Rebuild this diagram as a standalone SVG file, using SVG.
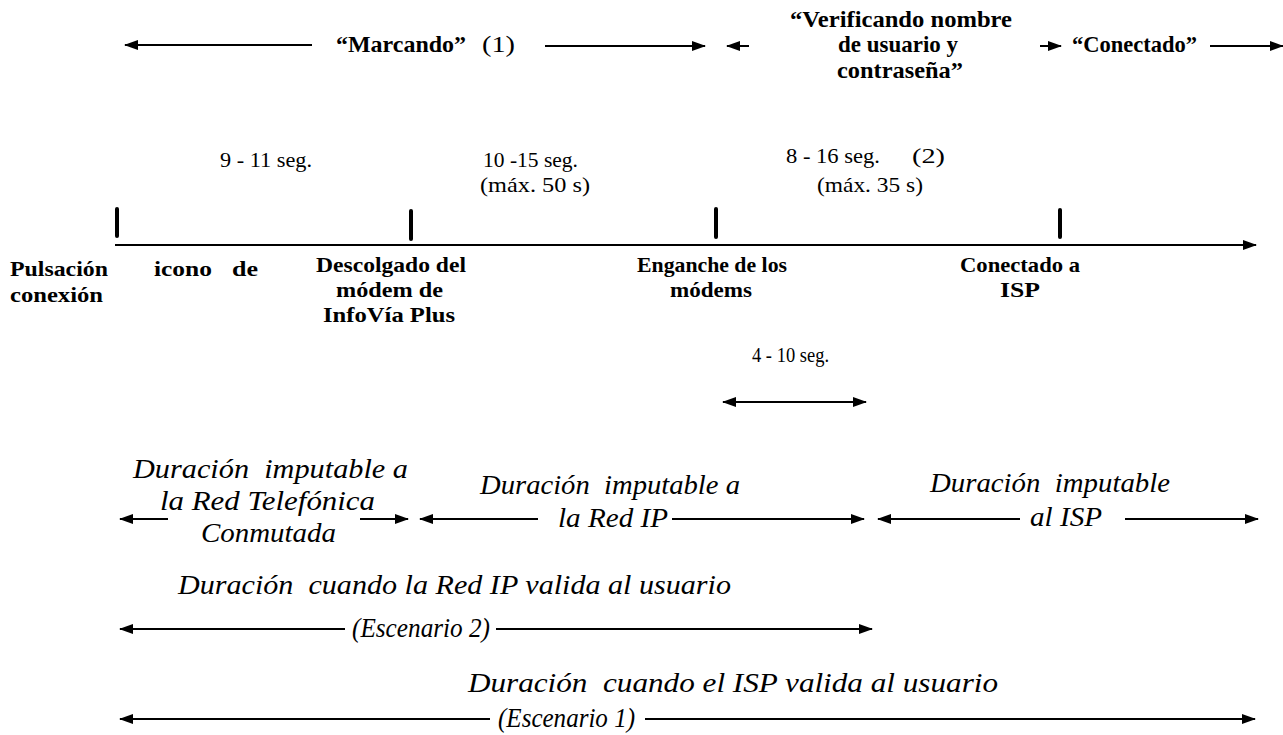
<svg xmlns="http://www.w3.org/2000/svg" width="1283" height="735" viewBox="0 0 1283 735">
<defs>
<marker id="ah" markerWidth="14" markerHeight="10" refX="13" refY="5" orient="auto-start-reverse" markerUnits="userSpaceOnUse">
<path d="M0,0 L14,5 L0,10 Z" fill="#000"/>
</marker>
<style>
.b{font-family:"Liberation Serif","Times New Roman",serif;font-weight:bold;font-size:22px;fill:#000}
.t{font-family:"Liberation Serif","Times New Roman",serif;font-weight:bold;font-size:23px;fill:#000}
.r{font-family:"Liberation Serif","Times New Roman",serif;font-size:22px;fill:#000}
.i{font-family:"Liberation Serif","Times New Roman",serif;font-style:italic;font-size:27px;fill:#000;white-space:pre}
.s{font-family:"Liberation Serif","Times New Roman",serif;font-style:italic;font-size:28px;fill:#000;white-space:pre}
.ln{stroke:#000;stroke-width:2;fill:none}
.tk{stroke:#000;stroke-width:4;stroke-linecap:round}
</style>
</defs>
<rect width="1283" height="735" fill="#fff"/>
<g id="connectors">
<line class="ln" x1="312" y1="45" x2="125" y2="45" marker-end="url(#ah)"/>
<line class="ln" x1="545" y1="46" x2="705" y2="46" marker-end="url(#ah)"/>
<line class="ln" x1="749" y1="46" x2="727" y2="46" marker-end="url(#ah)"/>
<line class="ln" x1="1040" y1="46" x2="1061" y2="46" marker-end="url(#ah)"/>
<line class="ln" x1="1210" y1="46" x2="1283" y2="46" marker-end="url(#ah)"/>
<line class="ln" x1="115" y1="245" x2="1256" y2="245" marker-end="url(#ah)"/>
<line class="ln" x1="723" y1="402" x2="866" y2="402" marker-start="url(#ah)" marker-end="url(#ah)"/>
<line class="ln" x1="168" y1="519" x2="120" y2="519" marker-end="url(#ah)"/>
<line class="ln" x1="360" y1="519" x2="408" y2="519" marker-end="url(#ah)"/>
<line class="ln" x1="538" y1="519" x2="420" y2="519" marker-end="url(#ah)"/>
<line class="ln" x1="672" y1="519" x2="864" y2="519" marker-end="url(#ah)"/>
<line class="ln" x1="1020" y1="519" x2="878" y2="519" marker-end="url(#ah)"/>
<line class="ln" x1="1125" y1="519" x2="1258" y2="519" marker-end="url(#ah)"/>
<line class="ln" x1="345" y1="629" x2="120" y2="629" marker-end="url(#ah)"/>
<line class="ln" x1="496" y1="629" x2="872" y2="629" marker-end="url(#ah)"/>
<line class="ln" x1="490" y1="719" x2="120" y2="719" marker-end="url(#ah)"/>
<line class="ln" x1="645" y1="719" x2="1255" y2="719" marker-end="url(#ah)"/>
</g>
<g id="ticks">
<line class="tk" x1="117" y1="209" x2="117" y2="236"/>
<line class="tk" x1="411" y1="211" x2="411" y2="239"/>
<line class="tk" x1="716" y1="209" x2="716" y2="237"/>
<line class="tk" x1="1060" y1="210" x2="1060" y2="237"/>
</g>
<g id="phase-marcando">
<text class="t" x="336" y="52" textLength="130" lengthAdjust="spacingAndGlyphs">“Marcando”</text>
<text class="r" x="482" y="52" textLength="33" lengthAdjust="spacingAndGlyphs" style="font-size:24px">(1)</text>
</g>
<g id="phase-verificando">
<text class="t" x="790" y="27" textLength="222" lengthAdjust="spacingAndGlyphs">“Verificando nombre</text>
<text class="t" x="838" y="52" textLength="120" lengthAdjust="spacingAndGlyphs">de usuario y</text>
<text class="t" x="837" y="78" textLength="126" lengthAdjust="spacingAndGlyphs">contraseña”</text>
</g>
<g id="phase-conectado">
<text class="t" x="1072" y="52" textLength="125" lengthAdjust="spacingAndGlyphs">“Conectado”</text>
</g>
<g id="durations">
<text class="r" x="220" y="167" textLength="92" lengthAdjust="spacingAndGlyphs">9 - 11 seg.</text>
<text class="r" x="483" y="167" textLength="95" lengthAdjust="spacingAndGlyphs">10 -15 seg.</text>
<text class="r" x="480" y="192" textLength="110" lengthAdjust="spacingAndGlyphs">(máx. 50 s)</text>
<text class="r" x="786" y="163" textLength="94" lengthAdjust="spacingAndGlyphs">8 - 16 seg.</text>
<text class="r" x="912" y="163" textLength="33" lengthAdjust="spacingAndGlyphs">(2)</text>
<text class="r" x="817" y="192" textLength="106" lengthAdjust="spacingAndGlyphs">(máx. 35 s)</text>
<text class="r" x="752" y="362" textLength="77" lengthAdjust="spacingAndGlyphs">4 - 10 seg.</text>
</g>
<g id="node-pulsacion">
<text class="b" x="10" y="276" textLength="98" lengthAdjust="spacingAndGlyphs">Pulsación</text>
<text class="b" x="154" y="276" textLength="58" lengthAdjust="spacingAndGlyphs">icono</text>
<text class="b" x="232" y="276" textLength="26" lengthAdjust="spacingAndGlyphs">de</text>
<text class="b" x="10" y="302" textLength="93" lengthAdjust="spacingAndGlyphs">conexión</text>
</g>
<g id="node-descolgado">
<text class="b" x="316" y="272" textLength="150" lengthAdjust="spacingAndGlyphs">Descolgado del</text>
<text class="b" x="336" y="297" textLength="107" lengthAdjust="spacingAndGlyphs">módem de</text>
<text class="b" x="323" y="322" textLength="132" lengthAdjust="spacingAndGlyphs">InfoVía Plus</text>
</g>
<g id="node-enganche">
<text class="b" x="637" y="272" textLength="150" lengthAdjust="spacingAndGlyphs">Enganche de los</text>
<text class="b" x="670" y="297" textLength="82" lengthAdjust="spacingAndGlyphs">módems</text>
</g>
<g id="node-conectado">
<text class="b" x="960" y="272" textLength="120" lengthAdjust="spacingAndGlyphs">Conectado a</text>
<text class="b" x="1000" y="297" textLength="40" lengthAdjust="spacingAndGlyphs">ISP</text>
</g>
<g id="span-rtc">
<text class="i" x="133" y="478" textLength="275" lengthAdjust="spacingAndGlyphs" xml:space="preserve">Duración  imputable a</text>
<text class="i" x="160" y="510" textLength="215" lengthAdjust="spacingAndGlyphs">la Red Telefónica</text>
<text class="i" x="201" y="542" textLength="135" lengthAdjust="spacingAndGlyphs">Conmutada</text>
</g>
<g id="span-ip">
<text class="i" x="480" y="494" textLength="260" lengthAdjust="spacingAndGlyphs" xml:space="preserve">Duración  imputable a</text>
<text class="i" x="558" y="527" textLength="110" lengthAdjust="spacingAndGlyphs">la Red IP</text>
</g>
<g id="span-isp">
<text class="i" x="930" y="492" textLength="240" lengthAdjust="spacingAndGlyphs" xml:space="preserve">Duración  imputable</text>
<text class="i" x="1030" y="526" textLength="72" lengthAdjust="spacingAndGlyphs">al ISP</text>
</g>
<g id="span-esc2">
<text class="s" x="178" y="594" textLength="553" lengthAdjust="spacingAndGlyphs" xml:space="preserve">Duración  cuando la Red IP valida al usuario</text>
<text class="s" x="352" y="637" textLength="138" lengthAdjust="spacingAndGlyphs">(Escenario 2)</text>
</g>
<g id="span-esc1">
<text class="s" x="468" y="692" textLength="530" lengthAdjust="spacingAndGlyphs" xml:space="preserve">Duración  cuando el ISP valida al usuario</text>
<text class="s" x="498" y="727" textLength="137" lengthAdjust="spacingAndGlyphs">(Escenario 1)</text>
</g>
</svg>
